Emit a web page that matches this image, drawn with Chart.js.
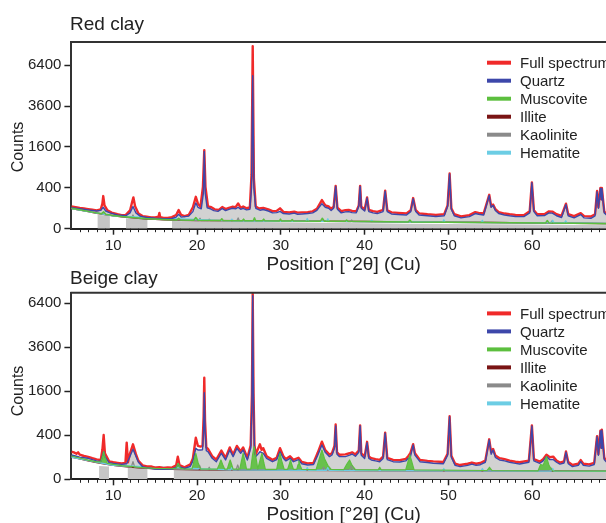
<!DOCTYPE html>
<html>
<head>
<meta charset="utf-8">
<script src="https://cdn.jsdelivr.net/npm/chart.js@4.4.0/dist/chart.umd.min.js"></script>
<style>
  html, body { margin: 0; padding: 0; background: #fff; overflow: hidden; width: 606px; height: 523px; }
  canvas { position: absolute; left: 0; }
  #chart-red { top: 0; }
  #chart-beige { top: 251px; }
</style>
</head>
<body>
<canvas id="chart-red" width="660" height="280"></canvas>
<canvas id="chart-beige" width="660" height="272"></canvas>
<script>
const FONT = '"Liberation Sans", Arial, Helvetica, sans-serif';
const xTicks = [10, 20, 30, 40, 50, 60, 70];
const yTicks = [0, 400, 1600, 3600, 6400];
const legendNames = ['Full spectrum', 'Quartz', 'Muscovite', 'Illite', 'Kaolinite', 'Hematite'];
const legendColors = ['#f02a2a', '#3d47aa', '#5cbf3e', '#7a1414', '#8a8a8a', '#6ccde4'];

// ---- Red clay: [2theta, counts] ----
const redFull = [[5,118],[5.5,112],[6,104],[6.5,98],[7,92],[7.5,86],[8,80],[8.5,88],[8.7,150],[8.8,255],[8.95,130],[9.3,80],[9.8,62],[10.5,50],[11,44],[11.5,46],[12,80],[12.25,170],[12.4,235],[12.6,120],[13,55],[13.5,38],[14,34],[14.5,30],[15,30],[15.4,34],[15.5,59],[15.6,32],[16,28],[16.5,28],[17,32],[17.5,45],[17.8,83],[18.1,45],[18.5,38],[19,45],[19.5,110],[19.85,243],[20.1,150],[20.4,115],[20.7,420],[20.86,1480],[21,420],[21.3,120],[21.7,110],[22.1,90],[22.6,85],[23,112],[23.4,92],[23.8,104],[24.2,115],[24.6,112],[24.9,153],[25.2,105],[25.5,118],[25.9,100],[26.3,108],[26.5,700],[26.64,7970],[26.78,600],[27,118],[27.4,98],[27.9,104],[28.5,90],[29,74],[29.5,76],[29.9,99],[30.3,68],[31,64],[31.6,70],[32,62],[32.5,64],[33.2,66],[33.8,72],[34.3,95],[34.9,196],[35.3,130],[35.7,118],[36,95],[36.3,115],[36.54,440],[36.75,105],[37.2,74],[37.7,82],[38.1,84],[38.5,76],[39,72],[39.3,130],[39.46,440],[39.6,115],[40,88],[40.29,235],[40.5,84],[41,74],[41.5,68],[42.2,84],[42.45,345],[42.7,82],[43.2,64],[44,60],[45,56],[45.5,82],[45.79,225],[46.1,82],[46.5,56],[47.5,50],[48.5,46],[49.5,50],[49.9,130],[50.14,730],[50.35,100],[50.7,50],[51.5,36],[52.5,44],[53.2,66],[53.6,60],[54.2,55],[54.87,275],[55.1,120],[55.33,140],[55.6,92],[56,66],[56.7,55],[57.3,50],[58,46],[59,44],[59.7,72],[59.96,515],[60.2,82],[60.6,50],[61.5,52],[62,72],[62.4,70],[62.9,50],[63.5,40],[64.03,150],[64.3,50],[65,38],[65.79,58],[66.2,38],[67,36],[67.5,50],[67.74,340],[67.9,110],[68.14,400],[68.25,210],[68.31,400],[68.6,70],[69.2,40],[70,40]];
const redQuartz = [[5,105],[6,95],[7,85],[8,75],[8.5,80],[8.8,110],[9.1,75],[9.6,60],[10.5,45],[11.5,40],[12,60],[12.35,118],[12.7,60],[13.2,38],[14,30],[15,26],[16,24],[17,25],[17.5,32],[17.8,50],[18.1,32],[19,38],[19.5,70],[19.85,160],[20.1,110],[20.5,95],[20.75,300],[20.86,1430],[20.97,300],[21.2,105],[21.6,95],[22,78],[22.5,72],[23,98],[23.4,78],[23.8,90],[24.2,100],[24.6,95],[24.9,110],[25.2,90],[25.5,100],[25.9,85],[26.3,90],[26.5,400],[26.64,5600],[26.78,400],[27,100],[27.5,82],[27.9,88],[28.5,75],[29,60],[29.5,62],[29.9,72],[30.3,55],[31,52],[31.6,58],[32,50],[32.5,52],[33.2,55],[33.8,60],[34.3,80],[34.9,150],[35.3,110],[35.7,100],[36,80],[36.3,100],[36.54,430],[36.75,90],[37.2,60],[37.7,68],[38.1,70],[38.5,62],[39,60],[39.3,120],[39.46,430],[39.6,100],[40,75],[40.29,225],[40.5,70],[41,60],[41.5,55],[42.2,70],[42.45,335],[42.7,70],[43.2,52],[44,48],[45,45],[45.5,70],[45.79,215],[46.1,70],[46.5,45],[47.5,40],[48.5,36],[49.5,40],[49.9,120],[50.14,720],[50.35,90],[50.7,40],[51.5,28],[52.5,35],[53.2,55],[53.6,50],[54.2,45],[54.87,265],[55.1,110],[55.33,130],[55.6,80],[56,55],[56.7,45],[57.3,40],[58,36],[59,35],[59.7,60],[59.96,505],[60.2,70],[60.6,40],[61.5,42],[62,60],[62.4,58],[62.9,40],[63.5,30],[64.03,140],[64.3,40],[65,28],[65.79,48],[66.2,28],[67,26],[67.5,40],[67.74,330],[67.9,100],[68.14,390],[68.25,200],[68.31,390],[68.6,60],[69.2,30],[70,30]];
const redMuscovite = [[5,100],[6,86],[7,72],[8,60],[8.6,54],[8.85,68],[9.1,50],[10,41],[11,35],[12,31],[13,27],[14,24],[15,22],[16,20],[17.6,18],[17.8,26],[18,18],[19.6,17],[19.85,30],[20.1,17],[22.8,16],[22.95,24],[23.1,16],[25.4,15],[25.55,22],[25.7,15],[26.7,15],[26.85,28],[27,15],[27.8,15],[27.95,22],[28.1,15],[29.8,14],[29.95,22],[30.1,14],[31.2,14],[31.35,20],[31.5,14],[34.7,13],[34.95,26],[35.2,13],[37.7,13],[37.85,18],[38,13],[45.2,11],[45.4,18],[45.6,11],[61.6,8],[61.8,16],[62,8],[70,6]];
const redIllite = [[5,98],[6,84],[7,70],[8,58],[9,48],[10,40],[11,34],[12,30],[13,26],[14,23],[15,21],[16,19],[18,17],[20,16],[25,15],[30,14],[35,13],[40,12],[45,11],[50,10],[55,9],[60,8],[65,7],[70,6]];
const redKaolinite = [[5,96],[10,39],[12.2,30],[12.35,45],[12.5,29],[15,21],[20.2,16],[20.35,26],[20.5,16],[21.3,16],[21.45,22],[21.6,16],[24.75,15],[24.9,28],[25.05,15],[34.9,13],[35.05,20],[35.2,13],[38.3,12],[38.45,18],[38.6,12],[62.2,8],[62.35,14],[62.5,8],[70,6]];
const redHematite = [[5,97],[10,39],[24,15],[24.15,22],[24.3,15],[33,13],[33.15,25],[33.3,13],[35.45,13],[35.6,24],[35.75,13],[40.7,12],[40.85,17],[41,12],[49.3,10],[49.45,19],[49.6,10],[53.9,9],[54.05,17],[54.2,9],[62.3,8],[62.45,17],[62.6,8],[63.85,8],[64,15],[64.15,8],[70,6]];
const redBand = [[8.1,0],[8.1,45],[9.6,42],[9.6,0],[10,null],[11.5,0],[11.5,26],[14.1,24],[14.1,0],[15,null],[17,0],[17,14],[30,10],[45,6],[60,4],[70,3],[70,0]];

// ---- Beige clay ----
const beigeFull = [[5,157],[5.3,150],[5.6,135],[5.8,150],[6,125],[6.5,112],[7,104],[7.5,92],[8,82],[8.5,76],[8.7,180],[8.85,405],[9,140],[9.5,66],[10,60],[10.5,56],[11,52],[11.45,56],[11.6,277],[11.75,60],[12,140],[12.35,253],[12.7,130],[13,70],[13.5,40],[14,34],[14.5,34],[15,28],[15.5,30],[16,27],[16.5,29],[17,28],[17.5,40],[17.7,106],[17.9,42],[18.5,30],[19.2,46],[19.5,90],[19.85,357],[20.1,230],[20.4,220],[20.65,230],[20.78,800],[20.86,2130],[20.95,700],[21.1,210],[21.3,190],[21.8,110],[22.3,80],[22.9,170],[23.4,95],[23.9,210],[24.3,125],[24.75,230],[25.2,160],[25.5,210],[26,95],[26.4,240],[26.55,1500],[26.64,7100],[26.74,1500],[26.85,240],[27,130],[27.5,253],[27.7,180],[27.9,200],[28.3,110],[29,78],[29.5,95],[29.9,200],[30.3,110],[30.6,85],[31.1,110],[31.5,78],[32.1,96],[32.5,62],[33.2,52],[33.9,56],[34.4,145],[34.9,292],[35.3,175],[35.8,126],[36.1,140],[36.4,230],[36.54,620],[36.7,150],[37,124],[37.7,128],[38.2,140],[38.5,150],[38.9,128],[39.3,170],[39.46,600],[39.6,140],[40,108],[40.29,290],[40.5,106],[40.8,92],[41.3,84],[41.8,78],[42.2,106],[42.45,450],[42.7,95],[43.4,78],[44.2,76],[44.9,85],[45.2,110],[45.45,140],[45.79,255],[46,140],[46.6,78],[47.5,70],[48.2,66],[49.4,62],[49.9,135],[50.14,820],[50.35,115],[50.8,50],[51.4,42],[52.3,50],[52.8,58],[53.3,50],[53.8,55],[54.4,72],[54.87,330],[55.1,150],[55.33,190],[55.6,118],[56.1,92],[56.7,84],[57.3,72],[58,64],[58.5,60],[59.6,72],[59.96,600],[60.2,84],[60.9,64],[61.3,84],[61.7,125],[62.1,100],[62.5,106],[62.9,72],[63.3,58],[63.8,66],[64.03,160],[64.3,62],[64.8,42],[65.5,50],[65.79,76],[66.1,50],[66.8,46],[67.4,56],[67.74,385],[67.9,130],[68.14,490],[68.22,210],[68.31,510],[68.6,95],[69.2,50],[70,50]];
const beigeQuartz = [[5,122],[5.5,112],[6,102],[6.5,96],[7,91],[7.5,80],[8,70],[8.5,66],[8.7,110],[8.85,157],[9,105],[9.5,57],[10,52],[10.5,48],[11,46],[11.6,50],[12,110],[12.35,186],[12.7,110],[13,60],[13.5,33],[14,28],[15,22],[16,21],[17,22],[17.5,30],[17.75,50],[18,30],[18.5,24],[19.2,35],[19.5,70],[19.85,198],[20.1,177],[20.4,177],[20.65,180],[20.78,500],[20.86,1550],[20.95,500],[21.1,170],[21.3,157],[21.8,91],[22.3,64],[22.9,140],[23.4,77],[23.9,177],[24.3,106],[24.75,198],[25.2,140],[25.5,177],[26,77],[26.4,200],[26.55,1200],[26.64,6960],[26.74,1200],[26.85,200],[27,106],[27.5,157],[27.9,140],[28.3,91],[29,64],[29.5,80],[29.9,157],[30.3,91],[30.6,70],[31.1,91],[31.5,64],[32.1,80],[32.5,50],[33.2,42],[33.9,45],[34.4,120],[34.9,243],[35.3,150],[35.8,106],[36.1,122],[36.4,200],[36.54,587],[36.7,130],[37,106],[37.7,106],[38.2,120],[38.5,132],[38.9,110],[39.3,150],[39.46,587],[39.6,120],[40,90],[40.29,277],[40.5,90],[40.8,77],[41.3,70],[41.8,64],[42.2,90],[42.45,437],[42.7,80],[43.4,64],[44.2,62],[44.9,70],[45.2,91],[45.45,100],[45.79,243],[46,120],[46.6,64],[47.5,58],[48.2,53],[49.4,50],[49.9,120],[50.14,810],[50.35,100],[50.8,40],[51.4,33],[52.3,40],[52.8,48],[53.3,40],[53.8,44],[54.4,60],[54.87,319],[55.1,130],[55.33,177],[55.6,100],[56.1,77],[56.7,70],[57.3,60],[58,52],[58.5,48],[59.6,60],[59.96,587],[60.2,70],[60.9,53],[61.3,70],[61.7,106],[62.1,80],[62.5,81],[62.9,60],[63.3,48],[63.8,55],[64.03,151],[64.3,50],[64.8,33],[65.5,40],[65.79,64],[66.1,40],[66.8,36],[67.4,45],[67.74,375],[67.9,120],[68.14,483],[68.22,200],[68.31,500],[68.6,80],[69.2,40],[70,40]];
const beigeMuscovite = [[5,112],[6,94],[7,76],[8,63],[8.5,62],[8.7,100],[8.85,157],[9,100],[9.3,52],[10,46],[11,39],[12,34],[13,30],[14,27],[15,25],[17,23],[17.5,26],[17.75,53],[18,26],[18.5,22],[19.4,22],[19.6,60],[19.85,140],[20.1,60],[20.4,22],[22.4,21],[22.65,45],[22.85,77],[23.05,45],[23.3,21],[23.6,21],[23.8,50],[23.95,77],[24.1,50],[24.3,21],[25.1,21],[25.3,70],[25.5,140],[25.7,70],[25.9,21],[26.4,21],[26.6,110],[26.8,220],[27,110],[27.25,21],[27.45,60],[27.75,140],[27.95,60],[28.15,20],[29.5,20],[29.7,70],[29.9,140],[30.1,70],[30.4,20],[30.8,20],[31,45],[31.15,77],[31.3,45],[31.5,20],[31.9,20],[32.05,45],[32.15,70],[32.3,40],[32.5,20],[34.2,19],[34.6,90],[34.9,177],[35.2,90],[35.6,40],[36,20],[37.5,19],[37.9,50],[38.2,77],[38.5,40],[38.9,19],[41.6,18],[41.8,30],[42,18],[44.9,18],[45.2,70],[45.4,121],[45.6,70],[45.9,18],[54.6,16],[54.9,30],[55.2,16],[60.7,15],[61,45],[61.3,40],[61.7,106],[62,40],[62.4,15],[70,14]];
const beigeIllite = [[5,104],[6,86],[7,70],[8,58],[9,48],[10,41],[11,35],[12,31],[13,27],[14,25],[15,23],[17,21],[20,19],[25,18],[30,17],[40,16],[50,15],[60,14],[70,13]];
const beigeKaolinite = [[5,100],[10,40],[12.15,31],[12.35,64],[12.55,31],[15,23],[20.1,19],[20.3,40],[20.5,19],[21.3,19],[21.45,30],[21.6,19],[24.65,18],[24.85,42],[25.05,18],[34.9,17],[35.1,30],[35.3,17],[38.2,16],[38.45,40],[38.7,16],[62.1,14],[62.3,25],[62.5,14],[70,13]];
const beigeHematite = [[5,101],[10,40],[24,18],[24.15,28],[24.3,18],[33,17],[33.15,28],[33.3,17],[35.45,17],[35.6,28],[35.75,17],[49.3,15],[49.45,24],[49.6,15],[53.9,15],[54.05,24],[54.2,15],[62.3,14],[62.45,24],[62.6,14],[70,13]];
const beigeBand = [[8.3,0],[8.3,36],[9.5,34],[9.5,0],[10,null],[11.7,0],[11.7,30],[14.1,26],[14.1,0],[15,null],[17.2,0],[17.2,18],[30,18],[50,16],[70,15],[70,0]];

// square-root count axis (ticks 0, 400, 1600 ... sit evenly)
class SqrtScale extends Chart.Scale {
  static id = 'sqrt';
  static defaults = {};
  determineDataLimits() {
    const { min, max } = this.getMinMax(true);
    this.min = isFinite(min) ? Math.max(0, min) : 0;
    this.max = isFinite(max) ? max : 1;
  }
  buildTicks() {
    return yTicks.filter(v => v >= this.min && v <= this.max).map(v => ({ value: v }));
  }
  getLabelForValue(v) { return String(v); }
  configure() {
    const start = this.min;
    super.configure();
    this._startValue = Math.sqrt(start);
    this._valueRange = Math.sqrt(this.max) - Math.sqrt(start);
  }
  getPixelForValue(v) {
    return this.getPixelForDecimal((Math.sqrt(v) - this._startValue) / this._valueRange);
  }
  getValueForPixel(p) {
    const d = this.getDecimalForPixel(p);
    return Math.pow(this._startValue + d * this._valueRange, 2);
  }
}
Chart.register(SqrtScale);

const decor = {
  id: 'decor',
  afterDraw(chart, args, o) {
    const { ctx, chartArea: a, scales: { x } } = chart;
    ctx.save();
    // top frame line
    ctx.strokeStyle = '#333';
    ctx.lineWidth = 2;
    ctx.beginPath();
    ctx.moveTo(a.left - 1, a.top);
    ctx.lineTo(a.right, a.top);
    ctx.stroke();
    // minor ticks every degree
    ctx.strokeStyle = '#222';
    ctx.lineWidth = 1;
    ctx.beginPath();
    for (let d = 6; d < 70; d++) {
      if (d % 10 === 0) continue;
      const px = Math.round(x.getPixelForValue(d)) + 0.5;
      ctx.moveTo(px, a.bottom);
      ctx.lineTo(px, a.bottom + 3.5);
    }
    ctx.stroke();
    ctx.fillStyle = '#222';
    ctx.font = '19px ' + FONT;
    ctx.textAlign = 'left';
    ctx.textBaseline = 'alphabetic';
    ctx.fillText(o.title, 70, o.titleY);
    ctx.textAlign = 'center';
    ctx.fillText('Position [°2θ] (Cu)', (a.left + a.right) / 2, a.bottom + 41);
    // legend
    ctx.font = '15px ' + FONT;
    ctx.textAlign = 'left';
    ctx.textBaseline = 'middle';
    legendNames.forEach((name, i) => {
      const y = a.top + 20.7 + i * 18;
      ctx.strokeStyle = legendColors[i];
      ctx.lineWidth = 4;
      ctx.beginPath();
      ctx.moveTo(487, y);
      ctx.lineTo(511, y);
      ctx.stroke();
      ctx.fillText(name, 520, y + 1);
    });
    // y title
    ctx.translate(19, o.countsY);
    ctx.rotate(-Math.PI / 2);
    ctx.font = '16px ' + FONT;
    ctx.textAlign = 'center';
    ctx.fillText('Counts', 0, 0);
    ctx.restore();
  }
};

function line(data, color, width, fill, bg) {
  return {
    data: data, borderColor: color, borderWidth: width, pointRadius: 0,
    fill: fill === undefined ? false : fill, backgroundColor: bg || 'transparent',
    borderJoinStyle: 'round', spanGaps: false
  };
}

function makeChart(id, d, yMax, xAxisH, padTop, deco, greenFill) {
  return new Chart(document.getElementById(id), {
    type: 'line',
    data: {
      datasets: [
        line(d.musc, '#5cbf3e', greenFill ? 1.2 : 1.5, greenFill ? 5 : false, 'rgba(92,191,62,0.9)'),
        line(d.quartz, '#3d47aa', 1.4, 5, '#d2d2d2'),
        line(d.full, '#f02a2a', 2.4),
        line(d.hem, '#6ccde4', 1.3),
        line(d.kao, '#8a8a8a', 1.3),
        line(d.ill, '#7a1414', 1.5),
        line(d.band, 'transparent', 0, 'origin', '#c6c6c6')
      ]
    },
    options: {
      responsive: false,
      animation: false,
      layout: { padding: { top: padTop, right: 44, left: 0, bottom: 0 } },
      plugins: {
        legend: { display: false },
        tooltip: { enabled: false },
        filler: { drawTime: 'beforeDatasetsDraw' },
        decor: deco
      },
      scales: {
        x: {
          type: 'linear', min: 5, max: 70,
          afterBuildTicks: s => { s.ticks = xTicks.map(v => ({ value: v })); },
          afterFit: s => { s.height = xAxisH; },
          border: { color: '#222', width: 2 },
          grid: { drawOnChartArea: false, tickLength: 6, tickColor: '#222', tickWidth: 1.5 },
          ticks: { font: { size: 15, family: FONT }, color: '#222', padding: 2, maxRotation: 0, autoSkip: false }
        },
        y: {
          type: 'sqrt', min: 0, max: yMax,
          afterFit: s => { s.width = 71.4; },
          border: { color: '#333', width: 2 },
          grid: { drawOnChartArea: false, tickLength: 7, tickColor: '#222', tickWidth: 1.5 },
          ticks: { font: { size: 15, family: FONT }, color: '#222', padding: 3, callback: v => String(v) }
        }
      }
    },
    plugins: [decor]
  });
}

makeChart('chart-red',
  { full: redFull, quartz: redQuartz, musc: redMuscovite, ill: redIllite, kao: redKaolinite, hem: redHematite, band: redBand },
  8350, 280 - 228.7, 42, { title: 'Red clay', titleY: 30, countsY: 147 }, false);

makeChart('chart-beige',
  { full: beigeFull, quartz: beigeQuartz, musc: beigeMuscovite, ill: beigeIllite, kao: beigeKaolinite, hem: beigeHematite, band: beigeBand },
  7190, 272 - 228.3, 41.7, { title: 'Beige clay', titleY: 33, countsY: 140 }, true);
</script>
</body>
</html>
